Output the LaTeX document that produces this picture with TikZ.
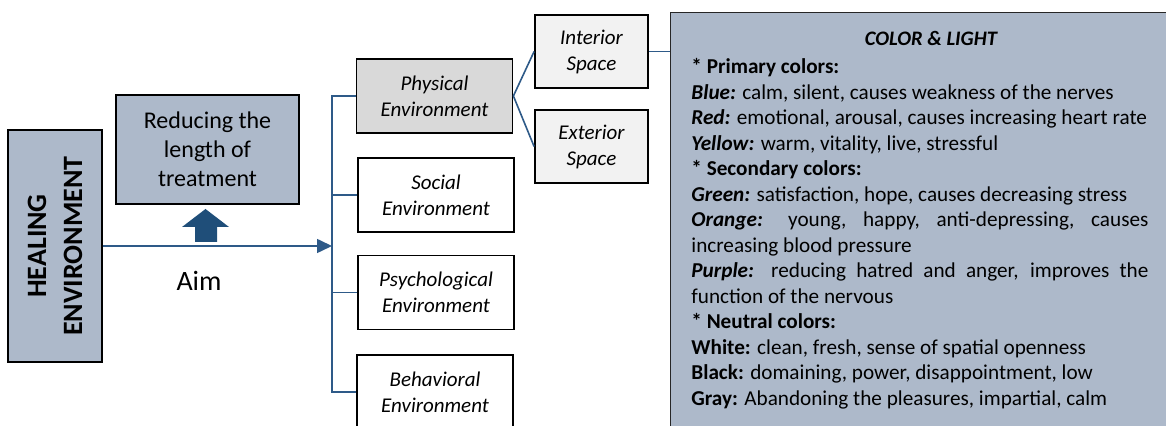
\documentclass[tikz,border=0pt]{standalone}
\usepackage{fontspec}
\setmainfont{Carlito}
\usetikzlibrary{arrows.meta}
\definecolor{bluegray}{HTML}{ADB9CA}
\definecolor{physgray}{HTML}{D9D9D9}
\definecolor{spacegray}{HTML}{F2F2F2}
\definecolor{linkblue}{HTML}{2E5A88}
\definecolor{arrowblue}{HTML}{1F4E79}

\begin{document}
\begin{tikzpicture}[x=0.5pt,y=-0.5pt,
        box/.style={draw=black,line width=0.9pt,align=center,inner sep=2pt},
        envbox/.style={box,fill=white,minimum width=78pt,minimum height=37pt,font=\fontsize{10.5}{13}\selectfont\itshape},
        spacebox/.style={box,fill=spacegray,minimum width=56.5pt,minimum height=36.5pt,font=\fontsize{10.5}{13}\selectfont\itshape},
        link/.style={draw=linkblue,line width=0.8pt}]
    \useasboundingbox (0,0) rectangle (1166,426);

    % left part
    \node[box,fill=bluegray,rotate=90,minimum width=116pt,minimum height=47pt,
          font=\fontsize{14}{18}\selectfont\bfseries] (heal) at (55,246) {HEALING\\ENVIRONMENT};
    \node[box,fill=bluegray,minimum width=91.5pt,minimum height=54.5pt,
          font=\fontsize{12}{14.5}\selectfont] (reduce) at (207.5,149.5) {Reducing the\\length of\\treatment};
    \fill[arrowblue] (195,242) -- (195,227) -- (182,227) -- (205.5,209) -- (229,227) -- (217,227) -- (217,242) -- cycle;
    \node[font=\fontsize{14}{17}\selectfont] (aim) at (199,281) {Aim};
    \coordinate (bus) at (332,247);
    \draw[link,-{Triangle[length=7.5pt,width=7pt]}] (heal.south) -- (heal.south -| bus);

    % environments
    \node[envbox,fill=physgray] (phys) at (434.5,96) {Physical\\Environment};
    \node[envbox] (soc) at (436,195) {Social\\Environment};
    \node[envbox] (psych) at (436,292.5) {Psychological\\Environment};
    \node[envbox] (behav) at (435,392) {Behavioral\\Environment};
    \draw[link] (phys.west) -| (bus |- behav.west) -- (behav.west);
    \draw[link] (soc.west) -- (soc.west -| bus);
    \draw[link] (psych.west) -- (psych.west -| bus);

    % spaces
    \node[spacebox] (inter) at (591.5,51.5) {Interior\\Space};
    \node[spacebox] (exter) at (591.5,146.5) {Exterior\\Space};
    \draw[link] (inter.west) -- (phys.east) -- (exter.west);

    % color and light
    \node[draw=black!85,line width=0.7pt,fill=bluegray,anchor=north west,
          minimum width=260pt,minimum height=220pt] (color) at (670,12) {};
    \draw[link] (inter.east) -- (inter.east -| color.west);
    \node[font=\fontsize{10.3}{12.5}\selectfont\bfseries\itshape] (colortitle) at (931,38) {COLOR \& LIGHT};
    \node[anchor=north west,inner sep=0pt,text width=228.5pt,align=justify,
          font=\fontsize{10.6}{12.75}\selectfont] (colortext) at (691,58) {%
        \textbf{* Primary colors:}\par
        \textbf{\textit{Blue:}} calm, silent, causes weakness of the nerves\par
        \textbf{\textit{Red:}} emotional, arousal, causes increasing heart rate\par
        \textbf{\textit{Yellow:}} warm, vitality, live, stressful\par
        \textbf{* Secondary colors:}\par
        \textbf{\textit{Green:}} satisfaction, hope, causes decreasing stress\par
        \textbf{\textit{Orange:}} young, happy, anti-depressing, causes\linebreak increasing blood pressure\par
        \textbf{\textit{Purple:}} reducing hatred and anger, improves the\linebreak function of the nervous\par
        \textbf{* Neutral colors:}\par
        \textbf{White:} clean, fresh, sense of spatial openness\par
        \textbf{Black:} domaining, power, disappointment, low\par
        \textbf{Gray:} Abandoning the pleasures, impartial, calm};
\end{tikzpicture}
\end{document}
